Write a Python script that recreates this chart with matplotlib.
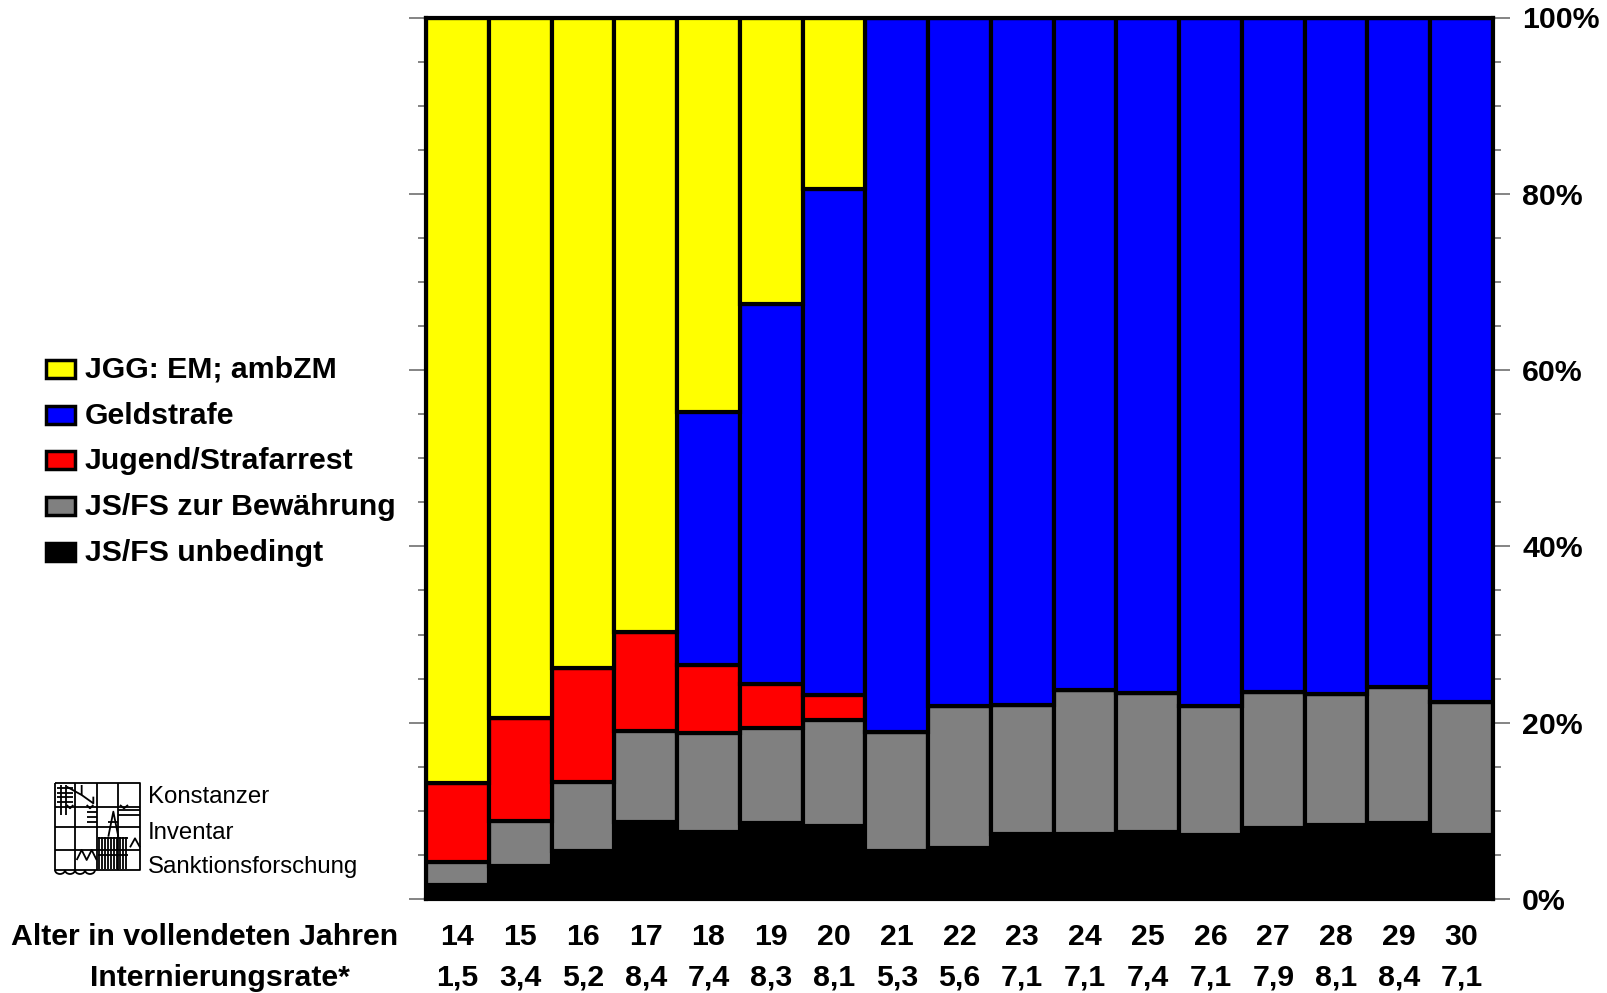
import matplotlib
matplotlib.use("Agg")
import matplotlib.pyplot as plt
from matplotlib.ticker import MultipleLocator, FixedLocator
from matplotlib.patches import Rectangle, Arc
import numpy as np

plt.rcParams['font.family'] = ['Liberation Sans', 'DejaVu Sans']

ages = [14, 15, 16, 17, 18, 19, 20, 21, 22, 23, 24, 25, 26, 27, 28, 29, 30]
rates = ["1,5", "3,4", "5,2", "8,4", "7,4", "8,3", "8,1", "5,3", "5,6", "7,1",
         "7,1", "7,4", "7,1", "7,9", "8,1", "8,4", "7,1"]

unbedingt = [1.6, 3.7, 5.4, 8.7, 7.6, 8.6, 8.3, 5.5, 5.8, 7.4, 7.4, 7.6, 7.3, 8.1, 8.4, 8.6, 7.3]
bewaehrung = [2.6, 5.1, 7.9, 10.4, 11.2, 10.8, 12.0, 13.5, 16.1, 14.6, 16.3, 15.8, 14.6, 15.4, 14.9, 15.4, 15.1]
arrest = [9.0, 11.7, 12.9, 11.2, 7.8, 5.0, 2.8, 0, 0, 0, 0, 0, 0, 0, 0, 0, 0]
geldstrafe = [0, 0, 0, 0, 28.6, 43.1, 57.5, 81.0, 78.1, 78.0, 76.3, 76.6, 78.1, 76.5, 76.7, 76.0, 77.6]
jgg = [86.8, 79.5, 73.8, 69.7, 44.8, 32.5, 19.4, 0, 0, 0, 0, 0, 0, 0, 0, 0, 0]

series = [
    ("JS/FS unbedingt", unbedingt, "#000000"),
    ("JS/FS zur Bewährung", bewaehrung, "#808080"),
    ("Jugend/Strafarrest", arrest, "#FF0000"),
    ("Geldstrafe", geldstrafe, "#0000FF"),
    ("JGG: EM; ambZM", jgg, "#FFFF00"),
]

FS = 21.8
W, H = 1607, 993
fig = plt.figure(figsize=(W / 100, H / 100), dpi=100)

# overlay axes in pixel coordinates for legend and logo
ov = fig.add_axes([0, 0, 1, 1], zorder=0)
ov.set_xlim(0, W)
ov.set_ylim(H, 0)
ov.axis('off')

ax = fig.add_axes([426 / W, 1 - 899 / H, (1493 - 426) / W, (899 - 17.5) / H], zorder=2)

bottom = np.zeros(len(ages))
for name, vals, col in series:
    v = np.array(vals, dtype=float)
    ax.bar(ages, v, bottom=bottom, width=1.0, color=col, edgecolor='black',
           linewidth=3, zorder=2)
    bottom += v

ax.set_xlim(13.5, 30.5)
ax.set_ylim(0, 100)
ax.set_xticks([])
for s in ax.spines.values():
    s.set_linewidth(3)
    s.set_color('black')
    s.set_zorder(5)

ax.yaxis.set_major_locator(FixedLocator([0, 20, 40, 60, 80, 100]))
ax.yaxis.set_minor_locator(MultipleLocator(5))
ax.tick_params(axis='y', which='both', left=True, right=True, labelleft=False,
               labelright=True, direction='out', color='#707070', width=1.2)
ax.tick_params(axis='y', which='major', length=12, pad=9, labelsize=FS)
ax.tick_params(axis='y', which='minor', length=6)
ax.set_yticklabels(["0%", "20%", "40%", "60%", "80%", "100%"], fontweight='bold')

# bottom rows
for a, r in zip(ages, rates):
    x_fig = ax.transData.transform((a, 0))[0]
    ov.text(x_fig, 937, str(a), ha='center', va='center', fontsize=FS, fontweight='bold')
    ov.text(x_fig, 978, r, ha='center', va='center', fontsize=FS, fontweight='bold')
ov.text(398, 937, "Alter in vollendeten Jahren", ha='right', va='center',
        fontsize=FS, fontweight='bold')
ov.text(350, 978, "Internierungsrate*", ha='right', va='center',
        fontsize=FS, fontweight='bold')

# legend
leg_y = [369, 415, 460, 506, 552]
for (name, vals, col), y in zip(series[::-1], leg_y):
    ov.add_patch(Rectangle((46, y - 9), 29, 18, facecolor=col, edgecolor='black',
                           linewidth=2.5))
    ov.text(85, y + 1, name, ha='left', va='center', fontsize=FS, fontweight='bold')

# logo
def P(zx, zy):
    return 40 + zx / 3.0, 770 + zy / 3.0

lw = 1.3
def line(pts):
    xs, ys = zip(*[P(*p) for p in pts])
    ov.plot(xs, ys, color='black', linewidth=lw, solid_capstyle='butt')

line([(45, 40), (300, 40), (300, 300), (45, 300), (45, 40)])
for zx in [105, 170, 235]:
    line([(zx, 40), (zx, 300)])
for zy in [110, 170, 240]:
    line([(45, zy), (300, zy)])
for zy in [55, 68, 82, 95]:
    line([(50, zy), (100, zy)])
for zx in [62, 78]:
    line([(zx, 45), (zx, 135)])
line([(80, 50), (125, 75), (125, 45)])
line([(125, 75), (160, 100), (160, 80)])
line([(80, 105), (90, 115), (100, 105)])
line([(140, 105), (150, 115), (160, 105)])
line([(240, 105), (252, 115), (264, 105)])
for zy in [125, 140, 155]:
    line([(140, zy), (170, zy)])
for zy in [120, 135]:
    line([(235, zy), (300, zy)])
line([(205, 200), (220, 125), (235, 200)])
line([(205, 155), (235, 155)])
for zx in range(178, 266, 9):
    line([(zx, 200), (zx, 298)])
line([(175, 205), (265, 205)])
line([(175, 255), (265, 255)])
line([(110, 270), (125, 240), (140, 270), (155, 240), (170, 270)])
line([(270, 232), (285, 205), (300, 232)])
for cx in [60, 90, 120, 150]:
    x0, y0 = P(cx, 300)
    ov.add_patch(Arc((x0, y0), 10, 8, theta1=0, theta2=180, color='black', linewidth=lw))

ov.text(148, 803, "Konstanzer", ha='left', va='baseline', fontsize=17.3)
ov.text(148, 839, "Inventar", ha='left', va='baseline', fontsize=17.3)
ov.text(148, 873, "Sanktionsforschung", ha='left', va='baseline', fontsize=17.3)

fig.savefig("out.png", dpi=100)
